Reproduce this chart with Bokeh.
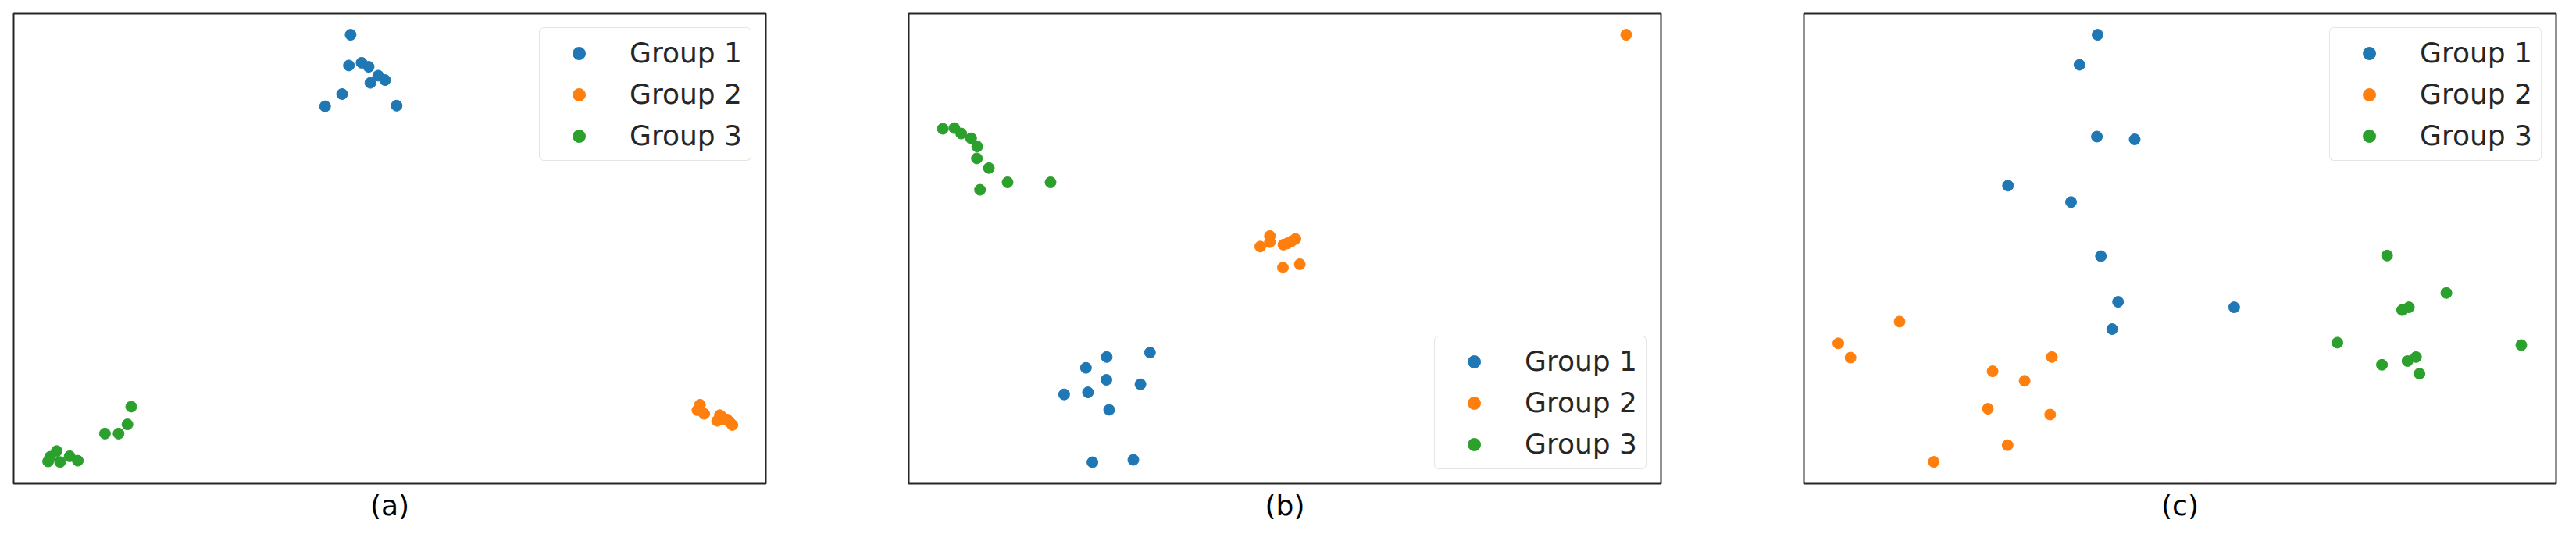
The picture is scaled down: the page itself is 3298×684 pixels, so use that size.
from bokeh.plotting import figure
from bokeh.layouts import row
from bokeh.models import Range1d, Title, Legend
from bokeh.embed import file_html
from bokeh.resources import INLINE

# ---------------- data (arbitrary embedding units) ----------------
GROUPS = ["Group 1", "Group 2", "Group 3"]
COLORS = ["#1f77b4", "#ff7f0e", "#2ca02c"]
CAPTIONS = ["(a)", "(b)", "(c)"]

# panel (a)
a_g1_x = [431.4, 429.2, 445.4, 454.5, 466.7, 475.5, 456.7, 420.5, 398.7, 490.3]
a_g1_y = [574.9, 535.6, 539.1, 533.9, 522.6, 516.9, 513.4, 499.0, 483.3, 484.2]
a_g2_x = [878.7, 875.4, 884.1, 904.1, 900.7, 909.4, 916.1, 920.1, 906.7, 913.4]
a_g2_y = [101.1, 94.1, 89.4, 87.7, 80.4, 82.7, 79.4, 75.1, 85.4, 82.1]
a_g3_x = [150.5, 145.7, 116.9, 134.3, 55.1, 46.7, 44.1, 59.4, 71.7, 82.1]
a_g3_y = [98.6, 75.9, 64.1, 64.1, 41.7, 34.4, 28.4, 27.7, 35.1, 29.4]

# panel (b)
b_g1_x = [253.4, 308.8, 226.8, 253.0, 296.6, 198.9, 229.4, 256.5, 235.1, 287.5]
b_g1_y = [162.2, 167.9, 148.3, 133.0, 127.3, 114.3, 116.9, 94.6, 27.4, 30.5]
b_g2_x = [918.5, 450.0, 462.3, 462.3, 479.6, 484.6, 490.0, 495.0, 479.0, 500.6]
b_g2_y = [574.9, 303.7, 317.1, 309.4, 306.1, 307.7, 310.4, 313.4, 276.7, 281.1]
b_g3_x = [43.6, 58.4, 67.2, 79.8, 87.7, 87.2, 102.5, 126.5, 181.5, 91.2]
b_g3_y = [454.5, 455.4, 448.4, 442.3, 431.8, 416.6, 404.3, 386.0, 386.0, 376.4]

# panel (c)
c_g1_x = [376.0, 352.9, 375.1, 423.5, 261.3, 342.0, 380.3, 402.2, 394.7, 550.9]
c_g1_y = [574.9, 536.5, 444.5, 441.0, 381.7, 360.7, 291.4, 232.9, 198.0, 225.9]
c_g2_x = [44.0, 59.7, 122.5, 241.6, 282.6, 317.5, 235.5, 315.3, 260.8, 166.2]
c_g2_y = [179.7, 161.4, 207.6, 143.9, 131.7, 162.2, 95.9, 88.5, 49.3, 27.9]
c_g3_x = [746.7, 822.6, 765.9, 774.6, 683.0, 740.1, 772.8, 783.7, 788.1, 918.5]
c_g3_y = [292.2, 244.2, 222.4, 225.9, 180.6, 152.2, 157.0, 162.2, 140.9, 177.5]

PANELS = [
    ([(a_g1_x, a_g1_y), (a_g2_x, a_g2_y), (a_g3_x, a_g3_y)], "top_right"),
    ([(b_g1_x, b_g1_y), (b_g2_x, b_g2_y), (b_g3_x, b_g3_y)], "bottom_right"),
    ([(c_g1_x, c_g1_y), (c_g2_x, c_g2_y), (c_g3_x, c_g3_y)], "top_right"),
]

FONT = "DejaVu Sans"


def make_panel(series, loc, caption, left_border, right_border):
    p = figure(frame_width=963, frame_height=602,
               x_range=Range1d(0, 963), y_range=Range1d(0, 602),
               min_border_left=left_border, min_border_right=right_border,
               min_border_top=17, min_border_bottom=60,
               output_backend="svg", toolbar_location=None)
    p.xaxis.visible = False
    p.yaxis.visible = False
    p.xgrid.visible = False
    p.ygrid.visible = False
    p.outline_line_color = "#262626"
    p.outline_line_width = 2
    p.background_fill_color = "white"
    p.border_fill_color = "white"

    for (xs, ys), name, col in zip(series, GROUPS, COLORS):
        p.scatter(xs, ys, size=14, marker="circle", fill_color=col,
                  line_color=col, legend_label=name)

    lg = p.legend[0]
    lg.location = loc
    lg.margin = 18
    lg.padding = 11
    lg.spacing = 12
    lg.glyph_width = 78
    lg.glyph_height = 40
    lg.label_height = 40
    lg.label_width = 140
    lg.label_standoff = 26
    lg.label_text_font = FONT
    lg.label_text_font_size = "36px"
    lg.label_text_color = "#262626"
    lg.border_line_color = "#cccccc"
    lg.border_line_width = 1.5
    lg.background_fill_alpha = 0.8
    if "border_radius" in Legend.properties():
        lg.border_radius = 6

    t = Title(text=caption, align="center", text_font=FONT,
              text_font_size="36px", text_font_style="normal",
              text_color="black", standoff=10, offset=0)
    p.add_layout(t, "below")
    return p


figs = []
borders = [(17, 174), (9, 174), (9, 10)]
for (series, loc), cap, (lb, rb) in zip(PANELS, CAPTIONS, borders):
    figs.append(make_panel(series, loc, cap, lb, rb))

layout = row(*figs)
open("out.html", "w").write(file_html(layout, INLINE))
